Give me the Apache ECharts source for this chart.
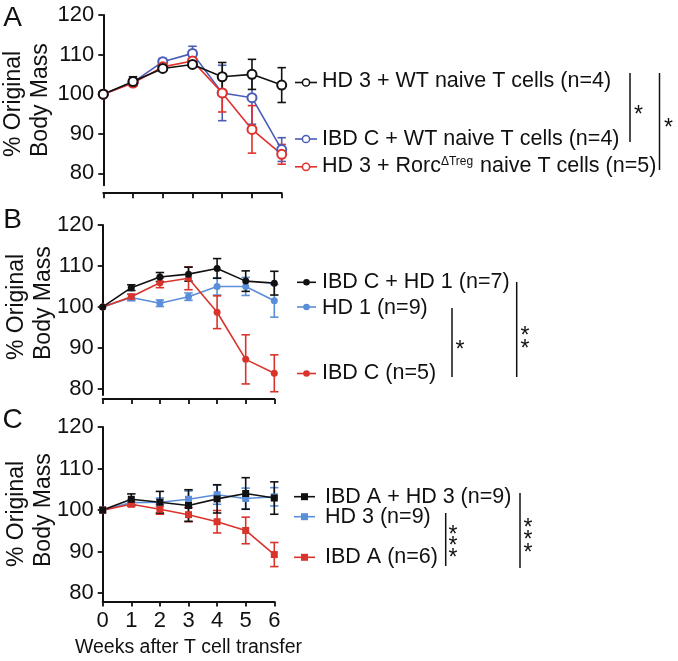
<!DOCTYPE html>
<html><head><meta charset="utf-8">
<script src="https://cdn.jsdelivr.net/npm/echarts@6/dist/echarts.min.js"></script>
<style>html,body{margin:0;padding:0;background:#fff}#c{width:678px;height:661px}</style>
</head><body><div id="c"></div>
<script>
// ---------- data ----------
const weeks = [0, 1, 2, 3, 4, 5, 6];
const xTickLabels = ['0', '1', '2', '3', '4', '5', '6'];
const yTickValues = [80, 90, 100, 110, 120];

// Panel A
const aHd3WtMean   = [100, 103.2, 106.5, 107.5, 104.4, 105.0, 102.3];
const aHd3WtSem    = [0, 1.2, 0.6, 0.6, 3.6, 3.8, 4.4];
const aIbdcWtMean  = [100, 103.0, 108.2, 110.3, 100.3, 99.1, 86.0];
const aIbdcWtSem   = [0, 0.8, 0.8, 1.8, 7.0, 6.7, 3.0];
const aRorcMean    = [100, 102.8, 106.9, 108.4, 100.3, 91.1, 84.8];
const aRorcSem     = [0, 0.8, 1.0, 1.5, 4.8, 6.0, 2.5];

// Panel B
const bMixMean  = [100, 104.7, 107.3, 108.0, 109.4, 106.3, 105.8];
const bMixSem   = [0, 0.7, 1.1, 1.7, 2.4, 2.5, 2.9];
const bHd1Mean  = [100, 102.3, 100.9, 102.5, 105.0, 105.0, 101.5];
const bHd1Sem   = [0, 0.8, 0.8, 0.9, 2.1, 2.2, 4.0];
const bIbdcMean = [100, 102.5, 105.9, 107.0, 98.7, 87.2, 83.8];
const bIbdcSem  = [0, 0.6, 1.2, 2.8, 4.0, 6.0, 4.5];

// Panel C
const cMixMean  = [100, 102.6, 101.9, 101.1, 102.7, 104.0, 102.9];
const cMixSem   = [0, 1.3, 2.6, 3.8, 3.4, 3.8, 3.9];
const cHd3Mean  = [100, 101.8, 101.9, 102.6, 103.7, 102.8, 103.2];
const cHd3Sem   = [0, 0.7, 1.0, 2.0, 2.3, 2.5, 2.2];
const cIbdaMean = [100, 101.4, 100.2, 98.9, 97.2, 95.1, 89.3];
const cIbdaSem  = [0, 0.5, 1.2, 1.7, 2.7, 3.2, 2.9];

// legend labels
const aNames = ['HD 3 + WT naive T cells (n=4)', 'IBD C + WT naive T cells (n=4)', 'HD 3 + Rorc{sup|ΔTreg} naive T cells (n=5)'];
const bNames = ['IBD C + HD 1 (n=7)', 'HD 1 (n=9)', 'IBD C (n=5)'];
const cNames = ['IBD A + HD 3 (n=9)', 'HD 3 (n=9)', 'IBD A (n=6)'];
const sigA = ['*', '*'];
const sigB = ['*', '*\n*'];
const sigC = ['*\n*\n*', '*\n*\n*'];

// ---------- styling ----------
const FONT = '"Liberation Sans", Arial, Helvetica, sans-serif';
const BLACK = '#111111';
const A_BLUE = '#4a5cb8', A_RED = '#e2312c';
const L_BLUE = '#5b8ed8', RED = '#d9342c';

const panels = [
  {grid: {left: 103.3, top: 15, width: 178.4, height: 170.2}, min: 77, xOffset: 8, showX: false,
   series: [
     {name: aNames[1], mean: aIbdcWtMean, sem: aIbdcWtSem, color: A_BLUE, symbol: 'emptyCircle', size: 9},
     {name: aNames[2], mean: aRorcMean, sem: aRorcSem, color: A_RED, symbol: 'emptyCircle', size: 9},
     {name: aNames[0], mean: aHd3WtMean, sem: aHd3WtSem, color: BLACK, symbol: 'emptyCircle', size: 9}
   ]},
  {grid: {left: 102.7, top: 225, width: 171.6, height: 170}, min: 78.5, xOffset: 4, showX: false,
   series: [
     {name: bNames[1], mean: bHd1Mean, sem: bHd1Sem, color: L_BLUE, symbol: 'circle', size: 7},
     {name: bNames[2], mean: bIbdcMean, sem: bIbdcSem, color: RED, symbol: 'circle', size: 7},
     {name: bNames[0], mean: bMixMean, sem: bMixSem, color: BLACK, symbol: 'circle', size: 7}
   ]},
  {grid: {left: 102.7, top: 427, width: 171.6, height: 174.5}, min: 78, xOffset: 0, showX: true,
   series: [
     {name: cNames[1], mean: cHd3Mean, sem: cHd3Sem, color: L_BLUE, symbol: 'rect', size: 7},
     {name: cNames[2], mean: cIbdaMean, sem: cIbdaSem, color: RED, symbol: 'rect', size: 7},
     {name: cNames[0], mean: cMixMean, sem: cMixSem, color: BLACK, symbol: 'rect', size: 7}
   ]}
];

function errRender(color) {
  return function (params, api) {
    const x = api.value(0), m = api.value(1), s = api.value(2);
    if (!s) return null;
    const t = api.coord([x, m + s]), b = api.coord([x, m - s]);
    const cw = 4.2, st = {stroke: color, lineWidth: 1.6};
    return {type: 'group', children: [
      {type: 'line', shape: {x1: t[0], y1: t[1], x2: b[0], y2: b[1]}, style: st},
      {type: 'line', shape: {x1: t[0] - cw, y1: t[1], x2: t[0] + cw, y2: t[1]}, style: st},
      {type: 'line', shape: {x1: b[0] - cw, y1: b[1], x2: b[0] + cw, y2: b[1]}, style: st}
    ]};
  };
}

const grids = [], xAxes = [], yAxes = [], series = [];
panels.forEach((p, gi) => {
  grids.push(Object.assign({outerBoundsMode: 'none', containLabel: false}, p.grid));
  xAxes.push({
    gridIndex: gi, type: 'value', min: 0, max: 6, interval: 1, offset: p.xOffset,
    axisLine: {show: true, onZero: false, lineStyle: {color: BLACK, width: 2}},
    axisTick: {show: true, length: 5, lineStyle: {color: BLACK, width: 1.8}},
    axisLabel: {show: p.showX, margin: 8, fontSize: 22, color: BLACK, fontFamily: FONT,
      formatter: v => xTickLabels[weeks.indexOf(v)] || ''},
    splitLine: {show: false},
    name: p.showX ? 'Weeks after T cell transfer' : '', nameLocation: 'middle', nameGap: 36,
    nameTextStyle: {fontSize: 19.5, color: BLACK, fontFamily: FONT}
  });
  yAxes.push({
    gridIndex: gi, type: 'value', min: p.min, max: 120,
    axisLine: {show: true, onZero: false, lineStyle: {color: BLACK, width: 2}},
    axisTick: {show: true, length: 5, customValues: yTickValues, lineStyle: {color: BLACK, width: 1.8}},
    axisLabel: {show: true, margin: 9, fontSize: 22, color: BLACK, fontFamily: FONT, customValues: yTickValues},
    splitLine: {show: false}
  });
  p.series.forEach(s => {
    series.push({
      type: 'custom', xAxisIndex: gi, yAxisIndex: gi, silent: true, z: 2,
      renderItem: errRender(s.color),
      encode: {x: 0, y: 1},
      data: weeks.map((w, i) => [w, s.mean[i], s.sem[i]])
    });
  });
  p.series.forEach(s => {
    series.push({
      type: 'line', name: s.name, xAxisIndex: gi, yAxisIndex: gi, z: 3,
      symbol: s.symbol, symbolSize: s.size, showSymbol: true,
      lineStyle: {color: s.color, width: 1.6},
      itemStyle: {color: s.color, borderColor: s.color, borderWidth: s.symbol === 'emptyCircle' ? 1.6 : 0},
      data: weeks.map((w, i) => [w, s.mean[i]])
    });
  });
});

// ---------- graphics: panel letters, y titles, legends, significance ----------
const g = [];
function txt(x, y, text, size, opts) {
  g.push(Object.assign({type: 'text', x: x, y: y, silent: true,
    style: Object.assign({text: text, fontSize: size, fontFamily: FONT, fill: BLACK,
      align: 'left', verticalAlign: 'middle'}, (opts && opts.style) || {})}, (opts && opts.el) || {}));
}
function line(x1, y1, x2, y2, color, w) {
  g.push({type: 'line', silent: true, shape: {x1, y1, x2, y2}, style: {stroke: color, lineWidth: w || 1.5}});
}
// panel letters
[['A', 18], ['B', 220], ['C', 420]].forEach(([t, y]) => txt(12.5, y, t, 28, {style: {align: 'center'}}));
// y-axis titles (rotated)
[[14, 41, 157], [16.5, 43.5, 360], [16.5, 43.5, 567]].forEach(([x1, x2, yb]) => {
  txt(x1, yb, '% Original', 23, {el: {rotation: Math.PI / 2}});
  txt(x2, yb, 'Body Mass', 23, {el: {rotation: Math.PI / 2}});
});
// legend items
function legendItem(lx1, lx2, cx, y, tx, ty, color, symbol, label) {
  line(lx1, y, lx2, y, color, 1.6);
  if (symbol === 'emptyCircle') {
    g.push({type: 'circle', silent: true, shape: {cx: cx, cy: y, r: 3.6}, style: {fill: '#fff', stroke: color, lineWidth: 1.5}});
  } else if (symbol === 'circle') {
    g.push({type: 'circle', silent: true, shape: {cx: cx, cy: y, r: 3.3}, style: {fill: color}});
  } else {
    g.push({type: 'rect', silent: true, shape: {x: cx - 3.5, y: y - 3.5, width: 7, height: 7}, style: {fill: color}});
  }
  g.push({type: 'text', x: tx, y: ty, silent: true, style: {
    text: label, fontSize: 21.5, fontFamily: FONT, fill: BLACK, align: 'left', verticalAlign: 'middle',
    rich: {sup: {fontSize: 12, fontFamily: FONT, fill: BLACK, verticalAlign: 'top', padding: [0, 1, 0, 0]}}
  }});
}
const aRows = [82.5, 139, 166.8], aText = [81.5, 139, 166.5];
legendItem(295, 317, 306, aRows[0], 322, aText[0], BLACK, 'emptyCircle', aNames[0]);
legendItem(295, 317, 306, aRows[1], 322, aText[1], A_BLUE, 'emptyCircle', aNames[1]);
legendItem(295, 317, 306, aRows[2], 322, aText[2], A_RED, 'emptyCircle', aNames[2]);
const bRows = [282.3, 307, 373.5];
legendItem(297, 316, 306.5, bRows[0], 322, bRows[0], BLACK, 'circle', bNames[0]);
legendItem(297, 316, 306.5, bRows[1], 322, bRows[1] + 1, L_BLUE, 'circle', bNames[1]);
legendItem(297, 316, 306.5, bRows[2], 322, bRows[2], RED, 'circle', bNames[2]);
const cRows = [496.7, 516.7, 557.3];
legendItem(294, 315, 304.5, cRows[0], 325, cRows[0], BLACK, 'rect', cNames[0]);
legendItem(294, 315, 304.5, cRows[1], 325, cRows[1], L_BLUE, 'rect', cNames[1]);
legendItem(294, 315, 304.5, cRows[2], 325, cRows[2], RED, 'rect', cNames[2]);
// significance bars
const SS = 23;
line(630, 73, 630, 142, BLACK, 1.5);
txt(638.5, 116, sigA[0], SS, {style: {align: 'center'}});
line(659.5, 73, 659.5, 170, BLACK, 1.5);
txt(668.5, 129, sigA[1], SS, {style: {align: 'center'}});
line(452, 308, 452, 377, BLACK, 1.5);
txt(460, 351, sigB[0], SS, {style: {align: 'center'}});
line(516.7, 282, 516.7, 377, BLACK, 1.5);
txt(525, 343, sigB[1], SS, {style: {align: 'center', lineHeight: 13}});
line(445.7, 513, 445.7, 566, BLACK, 1.5);
txt(453, 547, sigC[0], SS, {style: {align: 'center', lineHeight: 11.5}});
line(520, 493, 520, 568, BLACK, 1.5);
txt(528, 541, sigC[1], SS, {style: {align: 'center', lineHeight: 12.5}});

const chart = echarts.init(document.getElementById('c'), null, {renderer: 'canvas'});
chart.setOption({
  animation: false,
  backgroundColor: '#ffffff',
  grid: grids, xAxis: xAxes, yAxis: yAxes, series: series,
  graphic: {elements: g}
});
</script>
</body></html>
